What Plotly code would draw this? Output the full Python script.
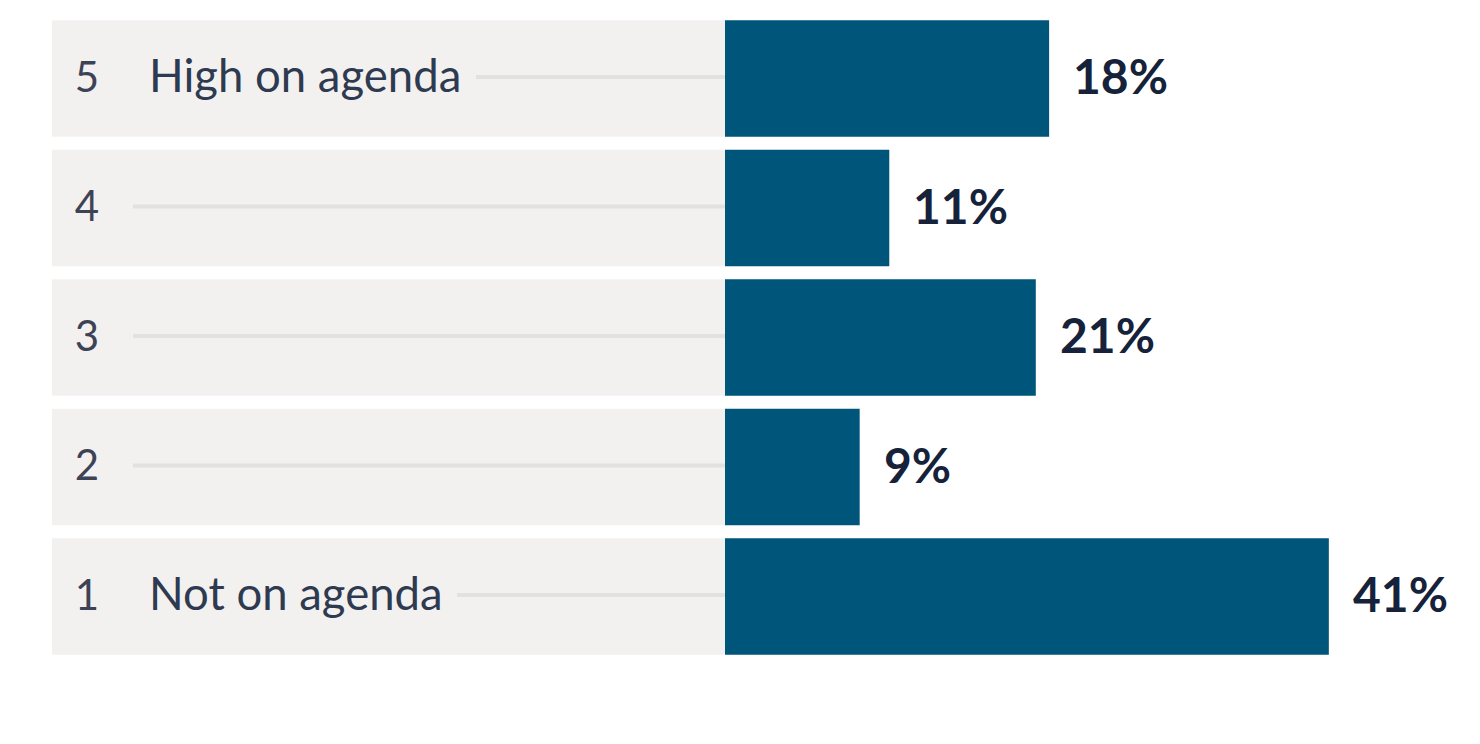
import plotly.graph_objects as go

# data
levels = ['5', '4', '3', '2', '1']
labels = ['High on agenda', '', '', '', 'Not on agenda']
pct = [18, 11, 21, 9, 41]              # printed values
bar_len = [21.9, 11.1, 21.0, 9.1, 40.8]  # drawn bar lengths (as in the picture)

W, H = 1480, 744
PAGE = 8          # default body margin of the html page
S = 14.8          # pixels per percent point
X0 = 725          # screen pixel where bars start
PITCH = 129.5     # row pitch in pixels
def px(p):
    return (p - X0) / S

rows = list(range(len(levels)))
bg_left = px(52)
leader_start = [px(476), px(133), px(133), px(133), px(457)]
txt_dy = 2.5 / PITCH   # nudge row text down a touch

navy = '#00557a'
font = 'Source Sans Pro, Lato, sans-serif'

fig = go.Figure()

# grey row backgrounds
fig.add_trace(go.Bar(
    y=rows, x=[-bg_left] * len(rows), base=bg_left,
    orientation='h', width=0.9,
    marker=dict(color='#f3f1f0', line=dict(width=0)),
    hoverinfo='skip', showlegend=False))

# leader lines
for r, xs in zip(rows, leader_start):
    fig.add_trace(go.Scatter(
        x=[xs, 0], y=[r - 0.012, r - 0.012], mode='lines',
        line=dict(color='#e3e1df', width=4),
        hoverinfo='skip', showlegend=False))

# the bars
fig.add_trace(go.Bar(
    y=rows, x=bar_len, orientation='h', width=0.9,
    marker=dict(color=navy, line=dict(width=0)),
    hoverinfo='skip', showlegend=False))

# level numbers
fig.add_trace(go.Scatter(
    x=[px(87)] * len(rows), y=[r + txt_dy for r in rows], mode='text', text=levels,
    textposition='middle center',
    textfont=dict(family=font, size=42, color='#3d4355'),
    hoverinfo='skip', showlegend=False))

# row labels
fig.add_trace(go.Scatter(
    x=[px(149)] * len(rows), y=[r + txt_dy for r in rows], mode='text', text=labels,
    textposition='middle right',
    textfont=dict(family=font, size=45.5, color='#2e3a50'),
    hoverinfo='skip', showlegend=False))

# percent labels
for r, v, b in zip(rows, pct, bar_len):
    fig.add_annotation(
        x=b, y=r, text='<b>%d%%</b>' % v, showarrow=False,
        xanchor='left', yanchor='middle', xshift=22, yshift=3,
        font=dict(family=font, size=48, color='#16223a'))

fig.update_layout(
    width=W, height=H,
    margin=dict(l=0, r=0, t=0, b=0),
    paper_bgcolor='white', plot_bgcolor='white',
    barmode='overlay',
    xaxis=dict(range=[px(PAGE), px(PAGE + W)], visible=False, fixedrange=True),
    yaxis=dict(range=[(PAGE + H - 78.5) / PITCH, (PAGE - 78.5) / PITCH],
               visible=False, fixedrange=True),
)

fig.write_html('out.html')
